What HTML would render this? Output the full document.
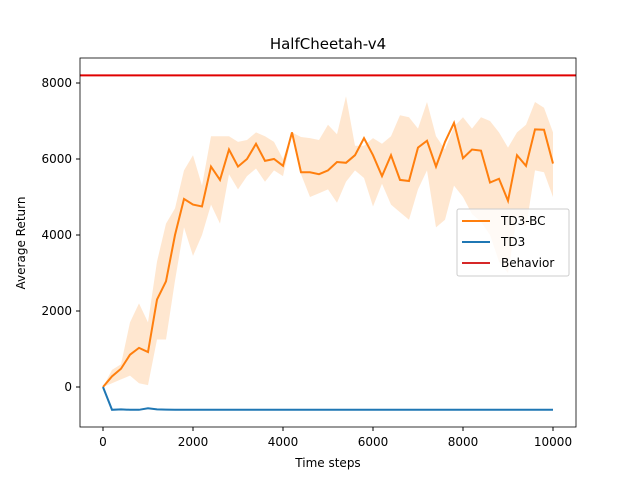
<!DOCTYPE html>
<html><head><meta charset="utf-8"><style>
body{margin:0;background:#fff;}
svg text{font-family:"DejaVu Sans","Liberation Sans",sans-serif;fill:#000;}
</style></head><body>
<svg id="chart" width="640" height="480">
<text x="328" y="49" font-size="15" text-anchor="middle">HalfCheetah-v4</text>
<g id="plot"></g>
<rect x="80" y="58" width="496" height="369" fill="none" stroke="#000" stroke-width="0.8"/>
<text x="328" y="467" font-size="12" text-anchor="middle">Time steps</text>
<text transform="translate(25,243) rotate(-90)" font-size="12" text-anchor="middle">Average Return</text>
<g>
<rect x="457" y="209" width="112" height="67" rx="2" fill="#fff" fill-opacity="0.8" stroke="#ccc"/>
<line x1="462" y1="221" x2="490" y2="221" stroke="#ff7f0e" stroke-width="2"/>
<text x="501" y="225" font-size="12">TD3-BC</text>
<line x1="462" y1="242" x2="490" y2="242" stroke="#1f77b4" stroke-width="2"/>
<text x="501" y="246" font-size="12">TD3</text>
<line x1="462" y1="263" x2="490" y2="263" stroke="#d62728" stroke-width="2"/>
<text x="501" y="267" font-size="12">Behavior</text>
</g>
</svg>
<script>
const steps=[];for(let i=0;i<=50;i++)steps.push(i*200);
const td3bcMean=[0,280,480,850,1030,920,2300,2780,4000,4950,4800,4750,5800,5450,6250,5800,6000,6400,5950,6000,5820,6700,5650,5650,5600,5700,5920,5900,6100,6550,6100,5550,6100,5450,5420,6300,6480,5800,6450,6950,6020,6250,6220,5380,5480,4900,6100,5820,6780,6770,5880];
const td3bcUpper=[0,450,600,1700,2200,1700,3300,4300,4700,5700,6100,5300,6600,6600,6600,6450,6500,6700,6600,6450,6000,6700,6580,6550,6500,6900,6650,7650,6350,6350,6550,6400,6600,7150,7100,6800,7500,6600,6250,6850,7100,6800,7100,7000,6700,6300,6700,6900,7500,7350,6700];
const td3bcLower=[0,100,200,300,100,50,1250,1250,2800,4200,3450,4000,4800,4300,5600,5200,5550,5750,5400,5700,5550,6650,5600,5000,5100,5200,4850,5400,5700,5500,4750,5350,4800,4600,4400,5200,5700,4200,4400,5300,5000,4550,4350,4000,3300,3000,4500,4200,5700,5650,5000];
const td3Mean=[0,-600,-590,-600,-600,-560,-590,-595,-600,-600,-600,-600,-600,-600,-600,-600,-600,-600,-600,-600,-600,-600,-600,-600,-600,-600,-600,-600,-600,-600,-600,-600,-600,-600,-600,-600,-600,-600,-600,-600,-600,-600,-600,-600,-600,-600,-600,-600,-600,-600,-600];
const behaviorValue=8200;
const xTicks=[0,2000,4000,6000,8000,10000];
const yTicks=[0,2000,4000,6000,8000];
const X=v=>103+v*0.045, Y=v=>387-v*0.038;
const NS='http://www.w3.org/2000/svg';
const g=document.getElementById('plot');
function mk(t,a){const e=document.createElementNS(NS,t);for(const k in a)e.setAttribute(k,a[k]);g.appendChild(e);return e;}
let d=steps.map((s,i)=>(i?'L':'M')+X(s)+','+Y(td3bcUpper[i])).join('');
for(let i=steps.length-1;i>=0;i--)d+='L'+X(steps[i])+','+Y(td3bcLower[i]);
const band=mk('path',{d:d+'Z',fill:'#ffbb78',opacity:0.35});


const l1=mk('polyline',{points:steps.map((s,i)=>X(s)+','+Y(td3bcMean[i])).join(' '),fill:'none',stroke:'#ff7f0e','stroke-width':2});


const l2=mk('polyline',{points:steps.map((s,i)=>X(s)+','+Y(td3Mean[i])).join(' '),fill:'none',stroke:'#1f77b4','stroke-width':2});


const b=mk('line',{x1:80,x2:576,y1:Y(behaviorValue),y2:Y(behaviorValue),stroke:'#e00000','stroke-width':2});


xTicks.forEach(v=>{mk('line',{x1:X(v),x2:X(v),y1:427,y2:431,stroke:'#000'});
const t=mk('text',{x:X(v),y:446,'font-size':12,'text-anchor':'middle'});t.textContent=v;

});
yTicks.forEach(v=>{mk('line',{x1:76,x2:80,y1:Y(v),y2:Y(v),stroke:'#000'});
const t=mk('text',{x:72,y:Y(v)+4,'font-size':12,'text-anchor':'end'});t.textContent=v;

});
</script>
</body></html>
